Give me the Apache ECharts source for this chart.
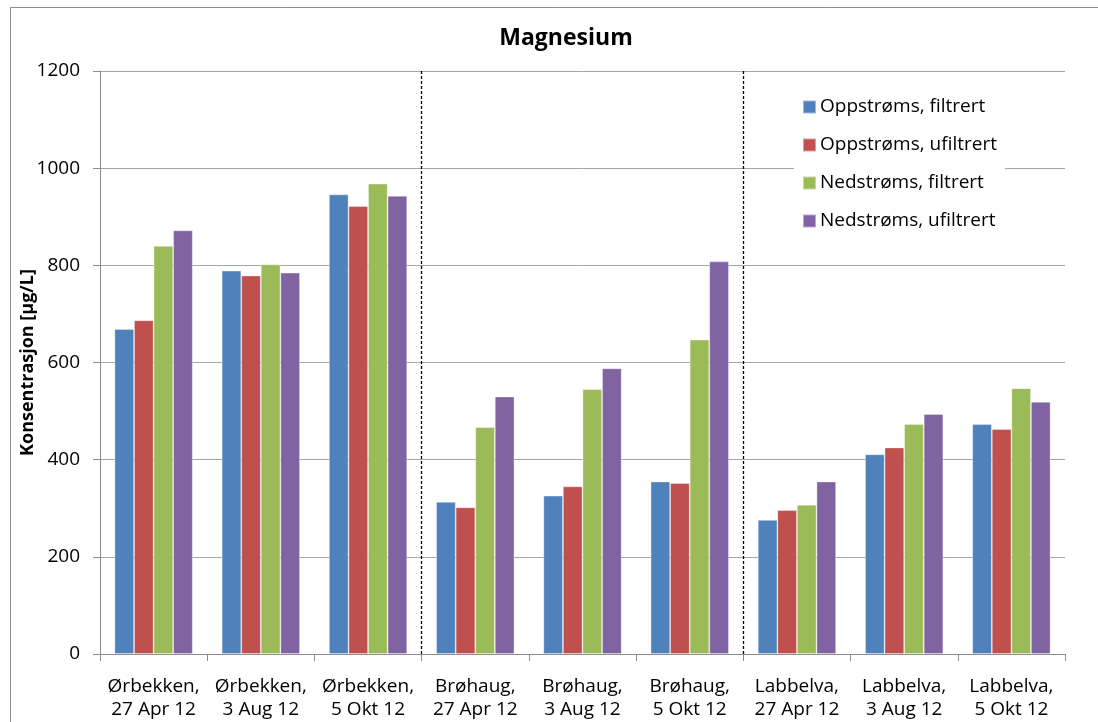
<!DOCTYPE html>
<html>
<head>
<meta charset="utf-8">
<script src="https://cdn.jsdelivr.net/npm/echarts@6/dist/echarts.min.js"></script>
<style>
  html, body { margin: 0; padding: 0; background: #fff; }
  #chart { width: 1098px; height: 722px; }
</style>
</head>
<body>
<div id="chart"></div>
<script>
// Sampling sites and dates (two-line category labels)
const categories = [
  'Ørbekken,\n27 Apr 12', 'Ørbekken,\n3 Aug 12', 'Ørbekken,\n5 Okt 12',
  'Brøhaug,\n27 Apr 12', 'Brøhaug,\n3 Aug 12', 'Brøhaug,\n5 Okt 12',
  'Labbelva,\n27 Apr 12', 'Labbelva,\n3 Aug 12', 'Labbelva,\n5 Okt 12'
];

const seriesNames = [
  'Oppstrøms, filtrert', 'Oppstrøms, ufiltrert',
  'Nedstrøms, filtrert', 'Nedstrøms, ufiltrert'
];

// Magnesium concentrations, µg/L
const oppFiltrert  = [669, 789, 946, 313, 326, 355, 276, 411, 473];
const oppUfiltrert = [687, 779, 922, 302, 345, 352, 296, 425, 463];
const nedFiltrert  = [840, 802, 968, 467, 545, 647, 307, 473, 547];
const nedUfiltrert = [872, 785, 943, 530, 588, 808, 355, 494, 519];

// Boundaries between the three sites (in category units)
const siteBoundaries = [3, 6];

const yTicks = { min: 0, max: 1200, interval: 200 };

const colors = ['#4F81BD', '#C0504D', '#9BBB59', '#8064A2'];
const values = [oppFiltrert, oppUfiltrert, nedFiltrert, nedUfiltrert];

const FONT = 'Open Sans';

const chart = echarts.init(document.getElementById('chart'), null, { renderer: 'canvas' });

const barSeries = seriesNames.map((name, i) => ({
  name: name,
  type: 'bar',
  data: values[i],
  barGap: '0%',
  barCategoryGap: '27%',
  itemStyle: { color: colors[i], borderColor: 'rgba(255,255,255,0.45)', borderWidth: 0.8 },
  emphasis: { disabled: true }
}));

const option = {
  animation: false,
  textStyle: { fontFamily: FONT },
  graphic: [{
    type: 'rect',
    shape: { x: 10.5, y: 7.5, width: 1100, height: 730 },
    style: { fill: 'none', stroke: '#8c8c8c', lineWidth: 1 },
    silent: true,
    z: -10
  }],
  title: {
    text: 'Magnesium',
    left: 561,
    top: 22,
    textAlign: 'center',
    textStyle: { fontFamily: FONT, fontSize: 23, fontWeight: 'bold', color: '#000' }
  },
  legend: {
    orient: 'vertical',
    left: 794,
    top: 88,
    itemWidth: 13,
    itemHeight: 13,
    itemGap: 12,
    padding: [6, 8, 6, 8],
    backgroundColor: '#fff',
    data: seriesNames.map(n => ({ name: n, icon: 'rect' })),
    textStyle: { fontFamily: FONT, fontSize: 19, lineHeight: 26, color: '#000', padding: [0, 0, 0, -1] }
  },
  grid: { left: 100, right: 33, top: 71, bottom: 68, containLabel: false },
  xAxis: [{
    type: 'category',
    data: categories,
    axisLine: { lineStyle: { color: '#8c8c8c', width: 1 } },
    axisTick: { show: true, alignWithLabel: false, interval: 0, length: 7, lineStyle: { color: '#8c8c8c' } },
    axisLabel: {
      interval: 0, margin: 21, color: '#000',
      fontFamily: FONT, fontSize: 19, lineHeight: 23
    }
  }, {
    // helper axis spanning the categories, used for the site separators
    type: 'value',
    min: 0, max: categories.length,
    show: false
  }],
  yAxis: {
    type: 'value',
    min: yTicks.min, max: yTicks.max, interval: yTicks.interval,
    name: 'Konsentrasjon [µg/L]',
    nameLocation: 'middle',
    nameGap: 63,
    nameMoveOverlap: false,
    nameTextStyle: { fontFamily: FONT, fontSize: 18, fontWeight: 'bold', color: '#000' },
    axisLine: { show: true, lineStyle: { color: '#8c8c8c', width: 1 } },
    axisTick: { show: true, length: 7, lineStyle: { color: '#8c8c8c' } },
    axisLabel: { margin: 20, color: '#000', fontFamily: FONT, fontSize: 19, formatter: v => String(v) },
    splitLine: { show: true, lineStyle: { color: '#a6a6a6', width: 1 } }
  },
  series: barSeries.concat([{
    type: 'line',
    xAxisIndex: 1,
    data: [],
    silent: true,
    markLine: {
      silent: true,
      symbol: ['none', 'none'],
      label: { show: false },
      lineStyle: { type: [3, 2], color: '#000', width: 1.3 },
      data: siteBoundaries.map(v => ({ xAxis: v }))
    }
  }])
};

chart.setOption(option);
</script>
</body>
</html>
